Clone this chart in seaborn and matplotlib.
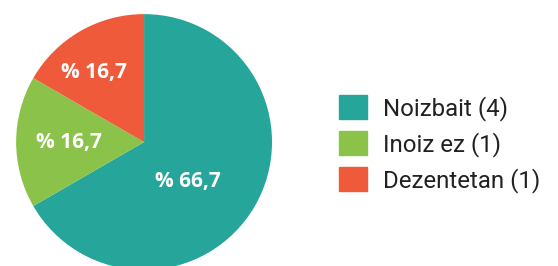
import matplotlib
matplotlib.use("Agg")
import numpy as np
import matplotlib.pyplot as plt
import matplotlib.patches as mpatches
import seaborn as sns

categories = ["Noizbait", "Inoiz ez", "Dezentetan"]
counts = [4, 1, 1]
colors = ["#26a69a", "#8bc34a", "#ee5a3a"]

sns.set_theme(style="white")
plt.rcParams["font.family"] = ["Roboto", "DejaVu Sans"]

fig = plt.figure(figsize=(5.58, 2.66), dpi=100)
ax = fig.add_axes([0.0287, -0.015, 0.459, 0.962])

wedges, texts, autotexts = ax.pie(
    counts,
    colors=colors,
    startangle=90,
    counterclock=False,
    autopct=lambda p: "% {:.1f}".format(p).replace(".", ","),
    pctdistance=0.6,
    wedgeprops={"linewidth": 0},
    textprops={"color": "white", "fontsize": 15, "fontweight": "bold",
               "family": ["Open Sans", "DejaVu Sans"]},
)

# nudge value labels the way the original renderer placed them
label_r = [0.46, 0.59, 0.67]
label_shift = [-12.6, 0, 5.5]
for w, t, r, s in zip(wedges, autotexts, label_r, label_shift):
    a = np.deg2rad((w.theta1 + w.theta2) / 2 + s)
    t.set_position((r * np.cos(a), r * np.sin(a)))

ax.set_xlim(-1, 1)
ax.set_ylim(-1, 1)
ax.set_aspect("equal")
ax.axis("off")

handles = [mpatches.Patch(color=c, label="{} ({})".format(n, v))
           for n, v, c in zip(categories, counts, colors)]
leg = fig.legend(
    handles=handles,
    loc="center left",
    bbox_to_anchor=(0.6075, 0.4586),
    frameon=False,
    fontsize=17.3,
    handlelength=1.15,
    handleheight=1.15,
    handletextpad=0.7,
    labelspacing=0.44,
    borderpad=0,
    borderaxespad=0,
)
for t in leg.get_texts():
    t.set_color("#212121")

fig.savefig("out.png", dpi=100)
